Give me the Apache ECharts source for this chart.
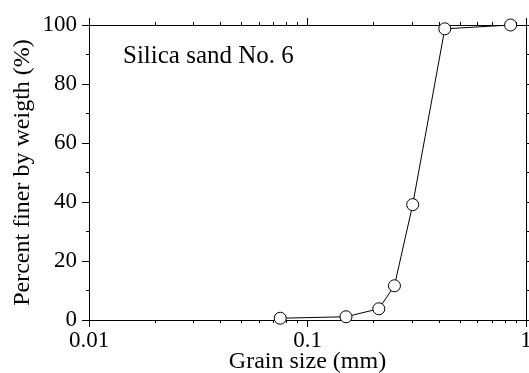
<!DOCTYPE html>
<html>
<head>
<meta charset="utf-8">
<script src="https://cdn.jsdelivr.net/npm/echarts/dist/echarts.min.js"></script>
<style>
html,body{margin:0;padding:0;background:#fff;}
#chart{width:529px;height:373px;}
</style>
</head>
<body>
<div id="chart"></div>
<script>
// Data
var grainSize = [0.075, 0.15, 0.212, 0.25, 0.303, 0.425, 0.85];
var percentFiner = [0.6, 1.1, 3.8, 11.6, 39.1, 98.7, 100];
var xMinorTicks = [0.02,0.03,0.04,0.05,0.06,0.07,0.08,0.09,0.2,0.3,0.4,0.5,0.6,0.7,0.8,0.9];
var annotation = 'Silica sand No. 6';
var xTitle = 'Grain size (mm)';
var yTitle = 'Percent finer by weigth (%)';

var FONT = 'Liberation Serif';
var lineStyle = {color:'#000', width:1};

function xAx(pos, major, labels) {
  return {
    type:'log', logBase:10, min:0.01, max:1, position:pos, gridIndex:0,
    axisLine:{show:major, onZero:false, lineStyle:lineStyle},
    axisTick: major ? {show:true, inside:false, length:7, lineStyle:lineStyle}
                    : {show:true, inside:false, length:3, lineStyle:lineStyle, customValues:xMinorTicks},
    axisLabel: labels ? {show:true, margin:9, color:'#000', fontFamily:FONT, fontSize:23,
      showMinLabel:true, showMaxLabel:true, hideOverlap:false,
      formatter:function(v){ return String(+v.toPrecision(3)); }} : {show:false},
    splitLine:{show:false},
    name: labels ? xTitle : '',
    nameLocation:'middle', nameGap:30, nameMoveOverlap:false,
    nameTextStyle:{color:'#000', fontFamily:FONT, fontSize:24}
  };
}
function yAx(pos, labels) {
  return {
    type:'value', min:0, max:100, interval:20, position:pos,
    axisLine:{show:true, onZero:false, lineStyle:lineStyle},
    axisTick:{show:true, inside:false, length:7, lineStyle:lineStyle},
    minorTick:{show:true, splitNumber:2, length:3, lineStyle:lineStyle},
    axisLabel: labels ? {show:true, margin:12, color:'#000', fontFamily:FONT, fontSize:23,
      showMinLabel:true, showMaxLabel:true} : {show:false},
    splitLine:{show:false},
    name: labels ? yTitle : '',
    nameLocation:'middle', nameGap:54, nameMoveOverlap:false,
    nameTextStyle:{color:'#000', fontFamily:FONT, fontSize:24}
  };
}

var chart = echarts.init(document.getElementById('chart'), null, {renderer:'canvas'});
chart.setOption({
  animation:false,
  backgroundColor:'#fff',
  grid:{left:89, right:3, top:25, bottom:53, containLabel:false, outerBoundsMode:'none'},
  xAxis:[xAx('bottom', true, true), xAx('bottom', false, false), xAx('top', true, false), xAx('top', false, false)],
  yAxis:[yAx('left', true), yAx('right', false)],
  graphic:[{type:'text', left:123, top:44, style:{text:annotation, fill:'#000', font:'25px "Liberation Serif"'}}],
  series:[{
    type:'line', xAxisIndex:0, yAxisIndex:0,
    data: grainSize.map(function(x,i){return [x, percentFiner[i]];}),
    symbol:'circle', symbolSize:12,
    itemStyle:{color:'#fff', borderColor:'#000', borderWidth:1},
    lineStyle:{color:'#000', width:1},
    z:5
  }]
});
</script>
</body>
</html>
